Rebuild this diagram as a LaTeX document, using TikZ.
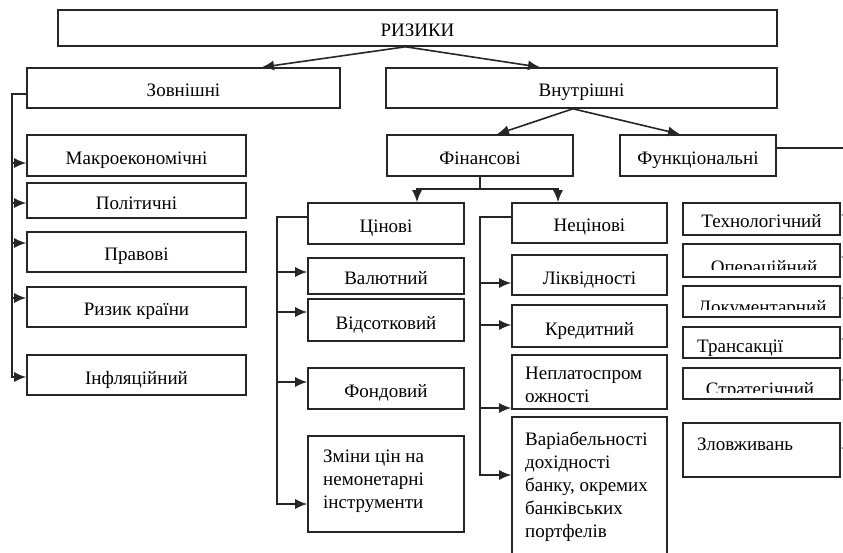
\documentclass[tikz,border=0pt]{standalone}
\usepackage{fontspec}
\setmainfont{Liberation Serif}
\usetikzlibrary{arrows.meta,calc}
\newcommand{\rfs}{\fontsize{19}{23}\selectfont}
\begin{document}
\begin{tikzpicture}[x=1pt,y=-1pt,
  box/.style={draw=black!85, line width=1.6pt, inner sep=0pt, font=\rfs, text depth=0pt, text height=18pt},
  ln/.style={draw=black!85, line width=1.6pt},
  arr/.style={draw=black!85, line width=1.6pt, -{Latex[length=12pt,width=10pt]}},
  txt/.style={inner sep=0pt, font=\rfs, align=left}]
\useasboundingbox (0,0) rectangle (843,553);
\fill[white] (0,0) rectangle (843,553);

% top levels
\node[box, minimum width=719, minimum height=36] (riz) at (417.5,28) {РИЗИКИ};
\node[box, minimum width=313, minimum height=40] (zovn) at (183.5,88) {Зовнішні};
\node[box, minimum width=391, minimum height=40] (vnut) at (581.5,88) {Внутрішні};
\node[box, minimum width=186, minimum height=41] (fin) at (480,155.5) {Фінансові};
\node[box, minimum width=156, minimum height=41] (func) at (698,155.5) {Функціональні};

% left column
\node[box, minimum width=219, minimum height=41] (macro) at (136.5,155.5) {Макроекономічні};
\node[box, minimum width=219, minimum height=35] (polit) at (136.5,200.5) {Політичні};
\node[box, minimum width=219, minimum height=40] (prav) at (136.5,252) {Правові};
\node[box, minimum width=219, minimum height=40] (kraina) at (136.5,307) {Ризик країни};
\node[box, minimum width=219, minimum height=40] (infl) at (136.5,375) {Інфляційний};

% price risks
\node[box, minimum width=156, minimum height=41] (tsin) at (386,223.5) {Цінові};
\node[box, minimum width=156, minimum height=36] (valut) at (386,276) {Валютний};
\node[box, minimum width=156, minimum height=42] (vids) at (386,320) {Відсотковий};
\node[box, minimum width=156, minimum height=41] (fond) at (386,388.5) {Фондовий};
\node[box, minimum width=156, minimum height=96] (zminy) at (386,484) {};
\node[txt, anchor=north west] (zminyT) at (323,450) {Зміни цін на\\немонетарні\\інструменти};

% non-price risks
\node[box, minimum width=155, minimum height=40] (netsin) at (589.5,223) {Нецінові};
\node[box, minimum width=155, minimum height=40] (likv) at (589.5,275) {Ліквідності};
\node[box, minimum width=155, minimum height=42] (kred) at (589.5,326) {Кредитний};
\node[box, minimum width=155, minimum height=54] (neplat) at (589.5,382) {};
\node[txt, anchor=north west] (neplatT) at (525,367) {Неплатоспром\\ожності};
\node[box, minimum width=155, minimum height=139] (var) at (589.5,486.5) {};
\node[txt, anchor=north west] (varT) at (525,432) {Варіабельності\\дохідності\\банку, окремих\\банківських\\портфелів};

% functional risks
\node[box, minimum width=157, minimum height=32] (tech) at (761.5,219) {Технологічний};
\node[box, minimum width=157, minimum height=33] (oper) at (761.5,260.5) {};
\node[box, minimum width=157, minimum height=31] (dok) at (761.5,301.5) {};
\node[box, minimum width=157, minimum height=31] (trans) at (761.5,342.5) {};
\node[box, minimum width=157, minimum height=31] (strat) at (761.5,383.5) {};
\node[box, minimum width=157, minimum height=54] (zlov) at (761.5,450) {};
\begin{scope}
  \clip (690,248) rectangle (832,270);
  \node[txt, anchor=base] (operT) at (764,273) {Операційний};
\end{scope}
\begin{scope}
  \clip (690,290) rectangle (826,309);
  \node[txt, anchor=base west] (dokT) at (698,313) {Документарний};
\end{scope}
\begin{scope}
  \clip (690,372) rectangle (832,392);
  \node[txt, anchor=base] (stratT) at (760,395) {Стратегічний};
\end{scope}
\node[txt, anchor=base west] (transT) at (697,352) {Трансакції};
\node[txt, anchor=base west] (zlovT) at (697,450) {Зловживань};

% connectors from top
\draw[arr] ([xshift=-12pt]riz.south) -- ([xshift=78.5pt]zovn.north);
\draw[arr] ([xshift=-12pt]riz.south) -- ([xshift=-41.5pt]vnut.north);
\draw[arr] ([xshift=-8.5pt]vnut.south) -- ([xshift=17pt]fin.north);
\draw[arr] ([xshift=-8.5pt]vnut.south) -- ([xshift=-18pt]func.north);

% left bus
\coordinate (L1) at (12,94);
\coordinate (L2) at (12,377);
\draw[ln] ([yshift=-6pt]zovn.west) -- (L1) -- (L2);
\foreach \n/\s in {macro/-7.5, polit/-2.5, prav/9, kraina/9, infl/-2}{
  \draw[arr] ([yshift=\s pt]\n.west) ++(-15,0) -- ([yshift=\s pt]\n.west);
}

% financial split
\coordinate (J) at (480,189);
\draw[ln] (fin.south) -- (J);
\draw[arr] (J) -| ([xshift=31pt]tsin.north);
\draw[arr] (J) -| ([xshift=-31.5pt]netsin.north);

% price bus
\coordinate (P1) at (277,217);
\coordinate (P2) at (277,504);
\draw[ln] ([yshift=6.5pt]tsin.west) -- (P1) -- (P2);
\foreach \n/\s in {valut/4, vids/8, fond/6.5, zminy/-20}{
  \draw[arr] ([yshift=\s pt]\n.west) ++(-31,0) -- ([yshift=\s pt]\n.west);
}

% non-price bus
\coordinate (N1) at (480,217);
\coordinate (N2) at (480,475);
\draw[ln] ([yshift=6pt]netsin.west) -- (N1) -- (N2);
\foreach \n/\s in {likv/-8, kred/1, neplat/-26, var/11.5}{
  \draw[arr] ([yshift=\s pt]\n.west) ++(-32,0) -- ([yshift=\s pt]\n.west);
}

% functional bus (vertical part lies just beyond the right edge)
\coordinate (R1) at (846,148);
\coordinate (R2) at (846,448);
\draw[ln] ([yshift=7.5pt]func.east) -- (R1) -- (R2);
\foreach \n/\s in {tech/4, oper/3.5, dok/3.5, trans/3.5, strat/3.5, zlov/2}{
  \draw[arr] ([yshift=\s pt]\n.east) ++(6,0) -- ([yshift=\s pt]\n.east);
}
\end{tikzpicture}
\end{document}
